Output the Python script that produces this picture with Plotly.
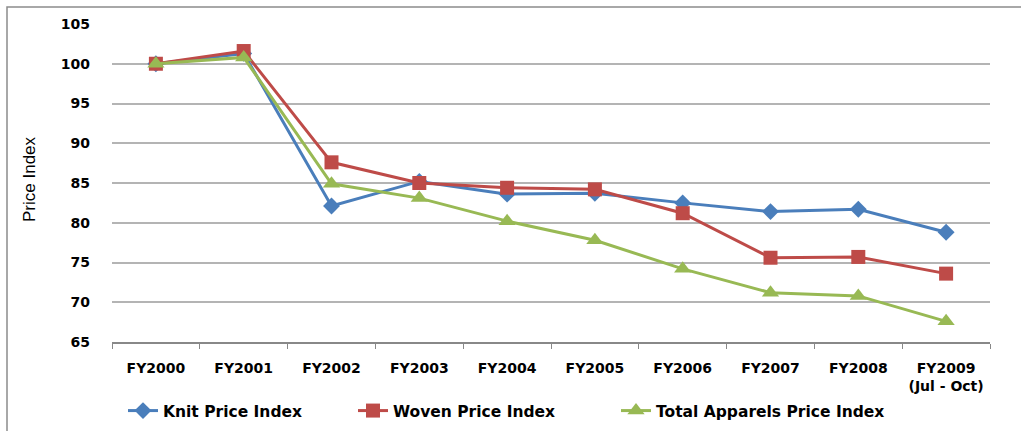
import plotly.graph_objects as go

categories = ["FY2000", "FY2001", "FY2002", "FY2003", "FY2004", "FY2005",
              "FY2006", "FY2007", "FY2008", "FY2009 (Jul - Oct)"]
tick_labels = ["FY2000", "FY2001", "FY2002", "FY2003", "FY2004", "FY2005",
               "FY2006", "FY2007", "FY2008", "FY2009<br>(Jul - Oct)"]
knit = [100.0, 101.3, 82.1, 85.2, 83.6, 83.7, 82.5, 81.4, 81.7, 78.8]
woven = [100.0, 101.6, 87.6, 85.0, 84.4, 84.2, 81.2, 75.6, 75.7, 73.6]
total = [100.0, 100.8, 84.9, 83.1, 80.2, 77.8, 74.2, 71.2, 70.8, 67.6]
y_ticks = [65, 70, 75, 80, 85, 90, 95, 100, 105]
series_names = ["Knit Price Index", "Woven Price Index", "Total Apparels Price Index"]

W, H = 1021, 431
L, R, T, B = 112, 31, 24, 89
PW, PH = W - L - R, H - T - B


def px_x(p):
    return (p - L) / PW


def px_y(p):
    return (H - B - p) / PH


fig = go.Figure()
fig.add_trace(go.Scatter(x=categories, y=knit, name=series_names[0],
                         mode="lines+markers", legend="legend",
                         line=dict(color="#4A7EBB", width=3),
                         marker=dict(symbol="diamond", size=13, color="#4A7EBB")))
fig.add_trace(go.Scatter(x=categories, y=woven, name=series_names[1],
                         mode="lines+markers", legend="legend2",
                         line=dict(color="#BE4B48", width=3),
                         marker=dict(symbol="square", size=14, color="#BE4B48")))
fig.add_trace(go.Scatter(x=categories, y=total, name=series_names[2],
                         mode="lines+markers", legend="legend3",
                         line=dict(color="#98B954", width=3),
                         marker=dict(symbol="triangle-up", size=15, color="#98B954")))

legend_font = dict(family="DejaVu Sans", size=15.5, color="black", weight="bold")
common_leg = dict(orientation="h", yanchor="middle", y=px_y(411), xanchor="left",
                  font=legend_font, bgcolor="rgba(0,0,0,0)", itemwidth=30)

fig.update_layout(
    width=W, height=H,
    margin=dict(l=L, r=R, t=T, b=B, autoexpand=False),
    paper_bgcolor="white", plot_bgcolor="white",
    font=dict(family="DejaVu Sans", color="black"),
    showlegend=True,
    legend=dict(common_leg, x=px_x(123)),
    legend2=dict(common_leg, x=px_x(353)),
    legend3=dict(common_leg, x=px_x(616)),
    xaxis=dict(type="category", categoryorder="array", categoryarray=categories,
               range=[-0.5, len(categories) - 0.5],
               tickmode="array", tickvals=categories, ticktext=tick_labels,
               tickson="boundaries", ticks="outside", ticklen=5, tickcolor="#888888",
               showline=True, linecolor="#888888", linewidth=1.5, tickangle=0,
               showgrid=False, ticklabelstandoff=12, automargin=False,
               tickfont=dict(family="DejaVu Sans", size=14, color="black",
                             weight="bold")),
    yaxis=dict(range=[65, 105], tickmode="array", tickvals=y_ticks,
               showgrid=True, gridcolor="#B4B4B4", gridwidth=1.5,
               zeroline=False, showline=False, ticks="",
               ticklabelstandoff=21, automargin=False,
               tickfont=dict(family="DejaVu Sans", size=14, color="black",
                             weight="bold")),
)

fig.add_annotation(text="Price Index", xref="paper", yref="paper",
                   x=px_x(29), y=px_y(179), textangle=-90, showarrow=False,
                   xanchor="center", yanchor="middle",
                   font=dict(family="Liberation Sans", size=17, color="black"))

fig.add_shape(type="rect", xref="paper", yref="paper",
              x0=px_x(7), x1=px_x(1030), y0=px_y(440), y1=px_y(7),
              line=dict(color="#8C8C8C", width=1.5), fillcolor="rgba(0,0,0,0)",
              layer="below")

fig.write_html("out.html", config={"displayModeBar": False},
               post_script="document.body.style.margin='0';document.body.style.overflow='hidden';")
